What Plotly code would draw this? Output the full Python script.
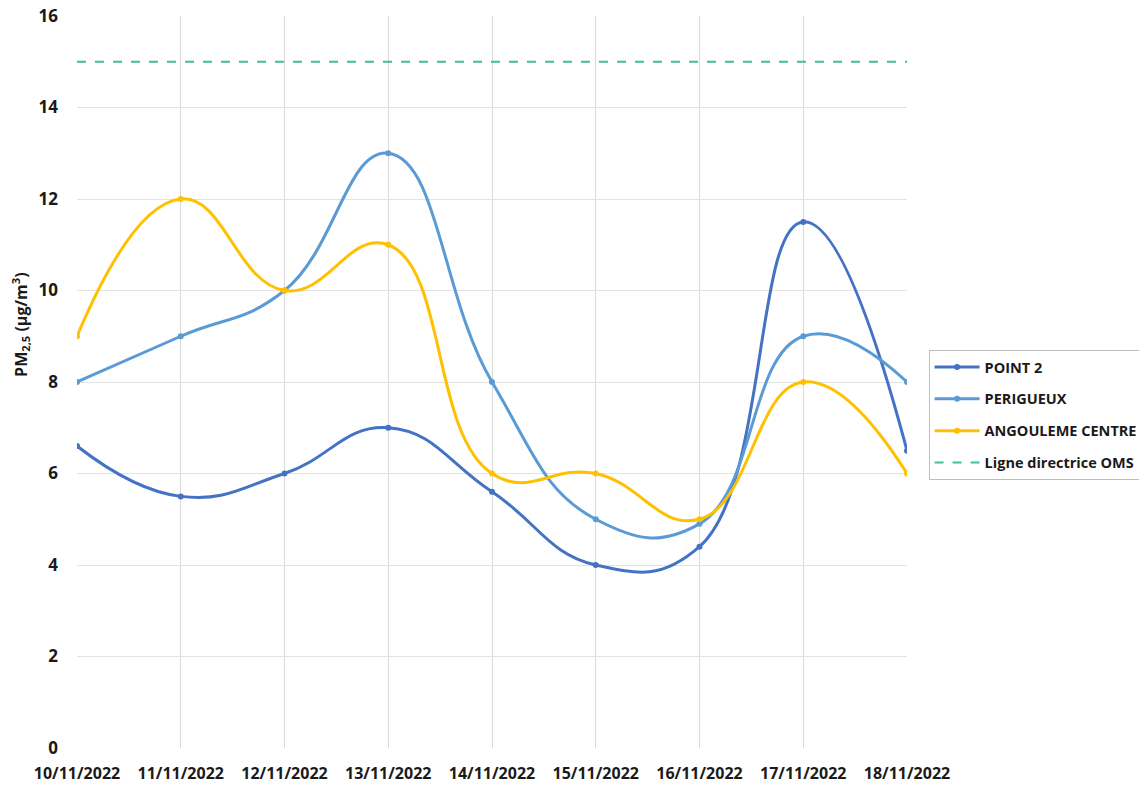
import plotly.graph_objects as go

dates = ["10/11/2022", "11/11/2022", "12/11/2022", "13/11/2022", "14/11/2022",
         "15/11/2022", "16/11/2022", "17/11/2022", "18/11/2022"]
point2 = [6.6, 5.5, 6.0, 7.0, 5.6, 4.0, 4.4, 11.5, 6.5]
perigueux = [8.0, 9.0, 10.0, 13.0, 8.0, 5.0, 4.9, 9.0, 8.0]
angouleme = [9.0, 12.0, 10.0, 11.0, 6.0, 6.0, 5.0, 8.0, 6.0]
oms = [15] * len(dates)

FONT = "Open Sans"
TXT = "#1a1a1a"
fig = go.Figure()

series = [
    ("POINT 2", point2, "#4472C4"),
    ("PERIGUEUX", perigueux, "#5B9BD5"),
    ("ANGOULEME CENTRE", angouleme, "#FFC000"),
]
for name, vals, col in series:
    fig.add_trace(go.Scatter(
        x=dates, y=vals, name=name, mode="lines+markers", legendgroup=name,
        line=dict(color=col, width=3, shape="spline", smoothing=1.3),
        marker=dict(color=col, size=6),
    ))

fig.add_trace(go.Scatter(
    x=dates, y=oms, name="Ligne directrice OMS", mode="lines",
    legendgroup="oms",
    line=dict(color="#3DBFA0", width=2, dash="dash"),
))

# page is offset by 8px body margin; compensate
fig.update_layout(
    width=1139, height=777,
    margin=dict(l=69, r=240, t=8, b=37, autoexpand=False),
    paper_bgcolor="white", plot_bgcolor="white",
    font=dict(family=FONT, size=13, color=TXT),
    showlegend=True,
    legend=dict(
        x=1.026, y=0.5437, xanchor="left", yanchor="top",
        bordercolor="#BFBFBF", borderwidth=1,
        font=dict(family=FONT, size=14.5, color=TXT, weight="bold"),
        tracegroupgap=10, itemwidth=45,
    ),
    annotations=[dict(
        text="PM<sub>2,5</sub> (µg/m<sup>3</sup>)", textangle=-90,
        xref="paper", yref="paper", x=-0.0675, y=0.578,
        xanchor="center", yanchor="middle", showarrow=False,
        font=dict(family=FONT, size=16, color=TXT, weight="bold"),
    )],
)
fig.update_xaxes(
    type="category", range=[0, len(dates) - 1],
    showgrid=True, gridcolor="#D9D9D9", gridwidth=1,
    showline=False, zeroline=False, automargin=False,
    tickfont=dict(family=FONT, size=16, color=TXT, weight="bold"),
    ticks="", ticklabelstandoff=14,
)
fig.update_yaxes(
    range=[0, 16], dtick=2, automargin=False,
    showgrid=True, gridcolor="#E3E3E3", gridwidth=1,
    zeroline=False, showline=False, ticklabeloverflow="allow",
    tickfont=dict(family=FONT, size=17, color=TXT, weight="bold"),
    ticklabelstandoff=18,
)

fig.write_html("out.html")
